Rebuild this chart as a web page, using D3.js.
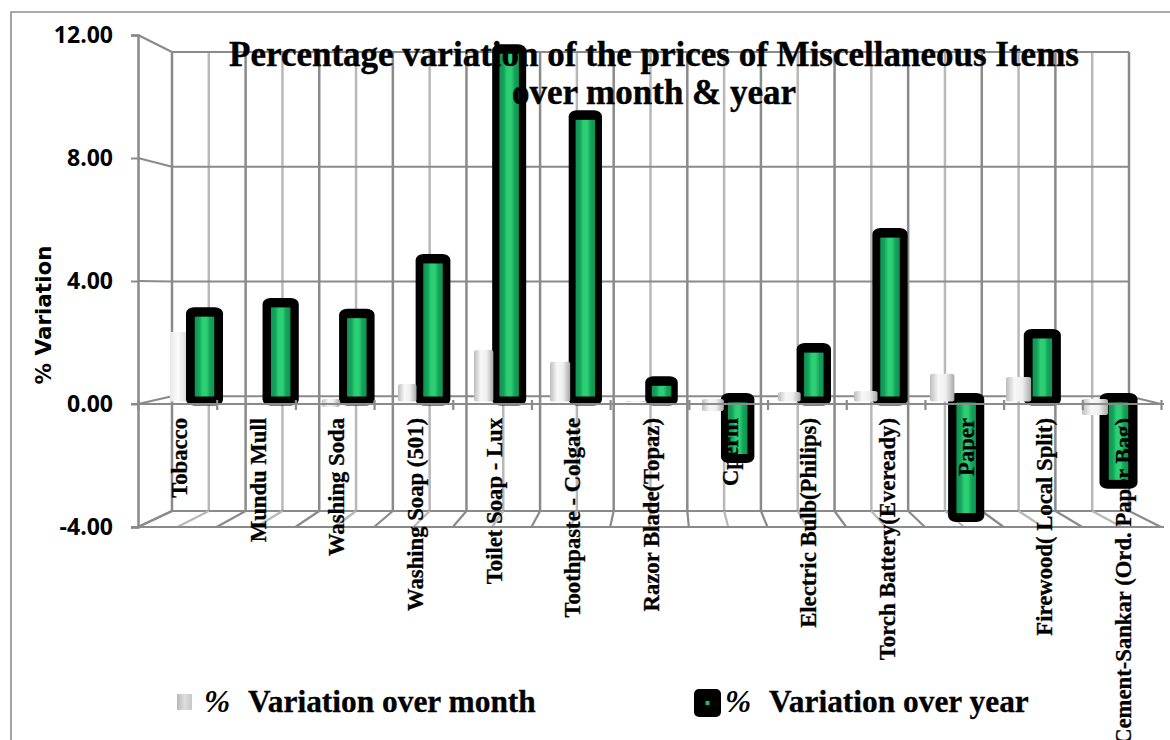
<!DOCTYPE html>
<html><head><meta charset="utf-8">
<script src="https://cdn.jsdelivr.net/npm/d3@7"></script>
<style>html,body{margin:0;padding:0;background:#fff;overflow:hidden}svg{display:block}</style>
</head><body><svg id="c" width="1170" height="740"></svg>
<script>
const categories = ["Tobacco","Mundu Mull","Washing Soda","Washing Soap (501)","Toilet Soap - Lux","Toothpaste - Colgate","Razor Blade(Topaz)","Cperm","Electric Bulb(Philips)","Torch Battery(Eveready)","Paper","Firewood( Local Split)","Cement-Sankar (Ord. Paper Bag)"];
const overMonth = [2.34,0.05,-0.1,0.65,1.76,1.37,0.1,-0.23,0.39,0.42,0.98,0.88,-0.36];
const overYear = [3.15,3.45,3.1,4.88,11.7,9.55,0.9,-1.92,1.98,5.72,-3.84,2.44,-2.76];
const yTicks = [-4,0,4,8,12];
const titleLines = ["Percentage variation of the prices of Miscellaneous Items","over month & year"];
const yTitle = "% Variation";
const legendNames = ["Variation over month","Variation over year"];

const svg = d3.select("#c");
const serif = "'Liberation Serif','Times New Roman',serif";
const DARK="#8a8a8a", LIGHT="#b8b8b8";
const idx = d3.range(categories.length);
const n = categories.length;

const y = d3.scaleLinear().domain([-4,12]).range([527,35]);
const yBack = d3.scaleLinear().domain([-4,12]).range([511,52]);
const xFront = d3.scaleLinear().domain([0,n]).range([138,1161]);
const xBack = d3.scaleLinear().domain([0,n]).range([172,1129]);
const labelX = d3.scaleBand().domain(categories).range([138,1161]);
const yearX = d3.scalePoint().domain(categories).range([204.5,1118.5]);
const monthX = d3.scalePoint().domain(categories).range([178,1095]);
const yearW = d3.scaleLinear().domain([0,6,12]).range([37,32.5,38]);
const monthW = d3.scaleLinear().domain([0,12]).range([16,26]);

const defs = svg.append("defs");
function hGrad(id,stops){const g=defs.append("linearGradient").attr("id",id);
  stops.forEach(s=>g.append("stop").attr("offset",s[0]).attr("stop-color",s[1]));}
hGrad("green",[[0,"#0e9450"],[.22,"#14a35c"],[.4,"#2ccf73"],[.6,"#2ccf73"],[.78,"#14a35c"],[1,"#0e9450"]]);
hGrad("white",[[0,"#bdbdbd"],[.35,"#f8f8f8"],[.65,"#efefef"],[1,"#a8a8a8"]]);
hGrad("pale",[[0,"#e8e8e8"],[.5,"#fbfbfb"],[1,"#dedede"]]);
hGrad("legendGrey",[[0,"#b8b8b8"],[.5,"#dedede"],[1,"#c8c8c8"]]);

// outer frame
svg.append("path").attr("d","M11,740V12H1170").attr("fill","none").attr("stroke","#8e8e8e").attr("stroke-width",1.6);

const grid = svg.append("g").attr("fill","none");
const halves = d3.range(0,n+0.5,0.5);
// back wall
grid.selectAll("line.v").data(halves).join("line").attr("class","v")
  .attr("x1",d=>xBack(d)).attr("x2",d=>xBack(d)).attr("y1",yBack(12)).attr("y2",yBack(-4))
  .attr("stroke",d=>Number.isInteger(d)?DARK:LIGHT).attr("stroke-width",2.5);
grid.selectAll("line.h").data(yTicks).join("line").attr("class","h")
  .attr("x1",xBack(0)).attr("x2",xBack(n)).attr("y1",d=>yBack(d)).attr("y2",d=>yBack(d))
  .attr("stroke",DARK).attr("stroke-width",1.8);
// side wall
grid.selectAll("line.s").data(yTicks).join("line").attr("class","s")
  .attr("x1",xFront(0)).attr("x2",xBack(0)).attr("y1",d=>y(d)).attr("y2",d=>yBack(d))
  .attr("stroke",DARK).attr("stroke-width",2);
// floor
grid.selectAll("line.f").data(halves).join("line").attr("class","f")
  .attr("x1",d=>xBack(d)).attr("x2",d=>xFront(d)).attr("y1",yBack(-4)).attr("y2",y(-4))
  .attr("stroke",d=>Number.isInteger(d)?DARK:LIGHT).attr("stroke-width",2.2);
grid.append("line").attr("x1",131).attr("x2",xFront(n)+3).attr("y1",y(-4)).attr("y2",y(-4)).attr("stroke",DARK).attr("stroke-width",2.2);
grid.append("line").attr("x1",xBack(n)).attr("x2",xFront(n)).attr("y1",yBack(0)).attr("y2",y(0)).attr("stroke",DARK).attr("stroke-width",2);

// year bars
const POS_BASE=405.5, NEG_BASE=393;
const yearG = svg.append("g");
idx.forEach(i=>{
  const v=overYear[i], c=yearX(categories[i]), w=yearW(i);
  const top = v>=0 ? y(v) : NEG_BASE, bot = v>=0 ? POS_BASE : y(v);
  yearG.append("rect").attr("x",c-w/2).attr("y",top).attr("width",w).attr("height",bot-top)
    .attr("rx",8).attr("ry",6).attr("fill","#000");
  yearG.append("rect").attr("x",c-9.75).attr("y",top+9.5).attr("width",19.5).attr("height",Math.max(0,bot-top-18.5))
    .attr("fill","url(#green)");
});
// month bars
const monthG = svg.append("g");
idx.forEach(i=>{
  const v=overMonth[i], c=monthX(categories[i]), w=monthW(i);
  const top = v>=0 ? y(v) : 399, bot = v>=0 ? 401.5 : y(v);
  monthG.append("rect").attr("x",c-w/2).attr("y",top).attr("width",w).attr("height",Math.max(1,bot-top))
    .attr("rx",i===0?0:3).attr("ry",2).attr("fill",i===0?"url(#pale)":"url(#white)");
});

// zero axis with ticks
const xAxis = d3.axisBottom(xFront).tickValues(d3.range(n+1)).tickSize(10).tickSizeOuter(0).tickFormat("");
const gx = svg.append("g").attr("transform",`translate(0,${y(0)-4})`).call(xAxis);
gx.selectAll(".tick line").attr("stroke",DARK).attr("stroke-width",2.2);
gx.select(".domain").remove();
svg.append("line").attr("x1",131).attr("x2",xFront(n)+3).attr("y1",y(0)).attr("y2",y(0)).attr("stroke",DARK).attr("stroke-width",2.2);

// y axis
const yAxis = d3.axisLeft(y).tickValues(yTicks).tickSize(7).tickPadding(18).tickFormat(d=>d3.format(".2f")(d).replace("\u2212","-"));
const gy = svg.append("g").attr("transform",`translate(${xFront(0)},0)`).call(yAxis);
gy.select(".domain").attr("stroke",DARK).attr("stroke-width",2.5);
gy.selectAll(".tick line").attr("stroke",DARK).attr("stroke-width",2);
gy.selectAll(".tick text").attr("font-family","'Open Sans',sans-serif").attr("font-weight",700).attr("font-size",23).attr("fill","#000");

// y title
svg.append("text").attr("transform","translate(51,315) rotate(-90)").attr("text-anchor","middle")
  .attr("font-family","'DejaVu Sans',sans-serif").attr("font-weight",700).attr("font-size",21.5).text(yTitle);

// category labels
svg.append("g").selectAll("text").data(categories).join("text")
  .attr("transform",d=>`translate(${labelX(d)+labelX.bandwidth()/2+9.5},418) rotate(-90)`)
  .attr("text-anchor","end").attr("font-family",serif).attr("font-weight",700).attr("font-size",22.7).attr("fill","#000")
  .attr("stroke","#000").attr("stroke-width",.3).text(d=>d);

// title
svg.append("g").selectAll("text").data(titleLines).join("text")
  .attr("x",654).attr("y",(d,i)=>66+i*38).attr("text-anchor","middle")
  .attr("font-family",serif).attr("font-weight",700).attr("font-size",35).attr("fill","#000")
  .attr("stroke","#000").attr("stroke-width",.4).text(d=>d);

// legend
svg.append("rect").attr("x",177).attr("y",694).attr("width",15).attr("height",16).attr("fill","url(#legendGrey)");
svg.append("rect").attr("x",694).attr("y",689).attr("width",27).attr("height",28).attr("rx",5).attr("fill","#000");
svg.append("rect").attr("x",705.5).attr("y",701).attr("width",4).attr("height",4).attr("fill","#1fb765");
[[204,248,legendNames[0]],[725,769,legendNames[1]]].forEach(l=>{
  svg.append("text").attr("x",l[0]).attr("y",712).attr("font-family",serif).attr("font-weight",700).attr("font-style","italic").attr("font-size",31.4).text("%");
  svg.append("text").attr("x",l[1]).attr("y",712).attr("font-family",serif).attr("font-weight",700).attr("font-size",31.4)
    .attr("stroke","#000").attr("stroke-width",.3).text(l[2]);
});
</script></body></html>
